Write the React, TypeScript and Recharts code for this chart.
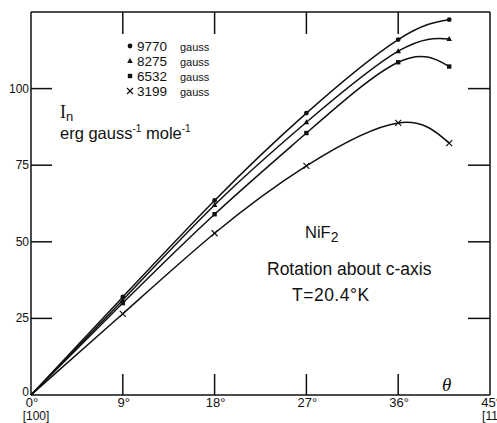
import { LineChart, Line, XAxis, YAxis } from 'recharts'

// rotation angle theta (degrees) of the field about the c-axis
const angles = [0, 9, 18, 27, 36, 41]
const gauss9770 = [0, 32, 63.5, 92, 116, 122.5]
const gauss8275 = [0, 31, 62, 89, 112.2, 116.2]
const gauss6532 = [0, 30, 59, 85.5, 108.6, 107.2]
const gauss3199 = [0, 26.5, 52.8, 74.8, 88.8, 82.2]

const xTicks = [0, 9, 18, 27, 36, 45]
const yTicks = [0, 25, 50, 75, 100]

const data = angles.map((a, i) => ({
  theta: a,
  g9770: gauss9770[i],
  g8275: gauss8275[i],
  g6532: gauss6532[i],
  g3199: gauss3199[i],
}))

const W = 497
const H = 423
const MARGIN = { top: 12, right: 7, bottom: 0, left: 0 }
const Y_AXIS_W = 31
const X_AXIS_H = 28
const PLOT_W = W - MARGIN.left - MARGIN.right - Y_AXIS_W
const PLOT_H = H - MARGIN.top - MARGIN.bottom - X_AXIS_H

const INK = '#111'
const FONT = '"Liberation Sans", Arial, sans-serif'
const TICK = 21
const SW = 1.5

type Shape = 'circle' | 'triangle' | 'square' | 'cross'

const series: { key: string; name: string; shape: Shape }[] = [
  { key: 'g9770', name: '9770', shape: 'circle' },
  { key: 'g8275', name: '8275', shape: 'triangle' },
  { key: 'g6532', name: '6532', shape: 'square' },
  { key: 'g3199', name: '3199', shape: 'cross' },
]

function Marker({ cx, cy, shape }: { cx: number; cy: number; shape: Shape }) {
  if (cx == null || cy == null) return null
  if (shape === 'circle') return <circle cx={cx} cy={cy} r={2.4} fill={INK} />
  if (shape === 'triangle')
    return <polygon points={`${cx},${cy - 3} ${cx - 2.8},${cy + 2} ${cx + 2.8},${cy + 2}`} fill={INK} />
  if (shape === 'square') return <rect x={cx - 2.2} y={cy - 2.2} width={4.4} height={4.4} fill={INK} />
  return (
    <g stroke={INK} strokeWidth={1.2}>
      <line x1={cx - 3} y1={cy - 3} x2={cx + 3} y2={cy + 3} />
      <line x1={cx - 3} y1={cy + 3} x2={cx + 3} y2={cy - 3} />
    </g>
  )
}

const makeDot = (shape: Shape) => (p: any) =>
  p.index === 0 ? <g key={p.index} /> : <Marker key={p.index} cx={p.cx} cy={p.cy} shape={shape} />

// bottom tick: inward tick at the bottom and the matching one on the top frame
function BottomTick({ x, y, payload }: any) {
  const v = payload.value
  const sub = v === 0 ? '[100]' : v === 45 ? '[110]' : null
  const inner = v !== 0 && v !== 45
  return (
    <g>
      {inner && <line x1={x} y1={y} x2={x} y2={y - TICK} stroke={INK} strokeWidth={SW} />}
      {inner && <line x1={x} y1={y - PLOT_H} x2={x} y2={y - PLOT_H + TICK + 1} stroke={INK} strokeWidth={SW} />}
      {v === 45 && <line x1={x} y1={y} x2={x} y2={y - PLOT_H} stroke={INK} strokeWidth={SW} />}
      {v === 0 && <line x1={x} y1={y - PLOT_H} x2={x + PLOT_W} y2={y - PLOT_H} stroke={INK} strokeWidth={SW} />}
      <text x={x + 1} y={y + 12} textAnchor="middle" fontSize={13} fontFamily={FONT} fill={INK}>
        {v}°
      </text>
      {sub && (
        <text x={x + 5} y={y + 25} textAnchor="middle" fontSize={12} fontFamily={FONT} fill={INK}>
          {sub}
        </text>
      )}
    </g>
  )
}

// left tick: inward tick on the left and the matching one on the right frame
function LeftTick({ x, y, payload }: any) {
  const v = payload.value
  return (
    <g>
      {v !== 0 && <line x1={x} y1={y} x2={x + TICK} y2={y} stroke={INK} strokeWidth={SW} />}
      {v !== 0 && <line x1={x + PLOT_W} y1={y} x2={x + PLOT_W - TICK - 1} y2={y} stroke={INK} strokeWidth={SW} />}
      <text x={x - 2} y={v === 0 ? y + 1 : y + 4} textAnchor="end" fontSize={12} fontFamily={FONT} fill={INK}>
        {v}
      </text>
    </g>
  )
}

function GaussLegend({ left, top }: { left: number; top: number }) {
  return (
    <g transform={`translate(${left},${top})`}>
      {series.map((s, i) => (
        <g key={s.key}>
          <Marker cx={5} cy={8 + i * 15} shape={s.shape} />
          <text x={12} y={13 + i * 15} fontSize={13.5} fontFamily={FONT} fill={INK}>
            {s.name}
          </text>
          <text x={55} y={13 + i * 15} fontSize={11} fontFamily={FONT} fill={INK}>
            gauss
          </text>
        </g>
      ))}
    </g>
  )
}

export default function App() {
  return (
    <div style={{ position: 'absolute', left: 0, top: 0, width: W, height: H, background: '#fff' }}>
      <LineChart width={W} height={H} data={data} margin={MARGIN}>
        <XAxis
          dataKey="theta"
          type="number"
          domain={[0, 45]}
          ticks={xTicks}
          interval={0}
          height={X_AXIS_H}
          tickSize={0}
          tickMargin={0}
          tick={<BottomTick />}
          axisLine={{ stroke: INK, strokeWidth: SW }}
        />
        <YAxis
          type="number"
          domain={[0, 125]}
          ticks={yTicks}
          interval={0}
          width={Y_AXIS_W}
          tickSize={0}
          tickMargin={0}
          tick={<LeftTick />}
          axisLine={{ stroke: INK, strokeWidth: SW }}
        />
        {series.map(s => (
          <Line
            key={s.key}
            dataKey={s.key}
            name={s.name}
            type="natural"
            stroke={INK}
            strokeWidth={1.5}
            dot={makeDot(s.shape)}
            activeDot={false}
            isAnimationActive={false}
          />
        ))}
        <GaussLegend left={125} top={38} />
        <text x={60} y={118} fontSize={18} fontFamily="'Liberation Serif', serif" fill={INK}>
          I<tspan fontSize={13} fontFamily={FONT} dy={3}>n</tspan>
        </text>
        <text x={60} y={139} fontSize={16.5} fontFamily={FONT} fill={INK}>
          erg gauss<tspan fontSize={10} dy={-7}>-1</tspan>
          <tspan dy={7}> mole</tspan>
          <tspan fontSize={10} dy={-7}>-1</tspan>
        </text>
        <text x={305} y={238} fontSize={16.5} fontFamily={FONT} fill={INK}>
          NiF<tspan fontSize={14} dy={4}>2</tspan>
        </text>
        <text x={267} y={275} fontSize={17.5} fontFamily={FONT} fill={INK}>
          Rotation about c-axis
        </text>
        <text x={292} y={301} fontSize={17.5} fontFamily={FONT} letterSpacing={0.5} fill={INK}>
          T=20.4°K
        </text>
        <text x={442} y={391} fontSize={19} fontStyle="italic" fontFamily="'Liberation Serif', serif" fill={INK}>
          θ
        </text>
      </LineChart>
    </div>
  )
}
